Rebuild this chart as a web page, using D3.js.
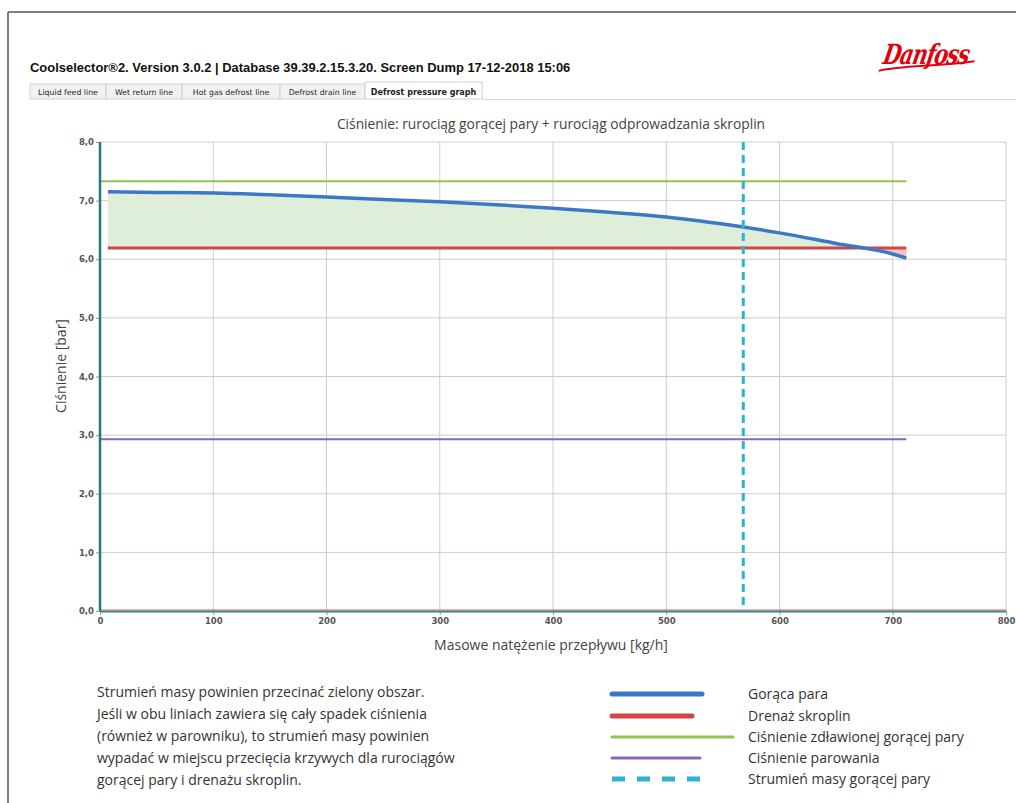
<!DOCTYPE html>
<html><head><meta charset="utf-8">
<script src="https://cdn.jsdelivr.net/npm/d3@7"></script>
<style>
html,body{margin:0;padding:0;background:#fff;}
svg{display:block;}
</style></head>
<body>
<svg id="c" width="1016" height="803"></svg>
<script>
// ---- data ----
const headerTitle = "Coolselector®2. Version 3.0.2 | Database 39.39.2.15.3.20. Screen Dump 17-12-2018 15:06";
const tabs = ["Liquid feed line","Wet return line","Hot gas defrost line","Defrost drain line","Defrost pressure graph"];
const chartTitle = "Ciśnienie: rurociąg gorącej pary + rurociąg odprowadzania skroplin";
const xLabel = "Masowe natężenie przepływu [kg/h]";
const yLabel = "Ciśnienie [bar]";
const xTicks = [0,100,200,300,400,500,600,700,800];
const yTicks = [0,1,2,3,4,5,6,7,8];
// hot gas (Gorąca para) curve
const hotGasX = [7,50,100,150,200,250,300,350,400,450,500,550,600,650,700,712];
const hotGasY = [7.15,7.14,7.13,7.10,7.06,7.02,6.98,6.93,6.87,6.80,6.72,6.60,6.45,6.27,6.09,6.02];
// drain (Drenaż skroplin)
const drainX = [7,712];
const drainY = [6.19,6.19];
// choked hot gas pressure
const chokedX = [0,712];
const chokedY = [7.33,7.33];
// evaporating pressure
const evapX = [0,712];
const evapY = [2.93,2.93];
// hot gas mass flow (vertical)
const massFlow = 568;
const legendLabels = ["Gorąca para","Drenaż skroplin","Ciśnienie zdławionej gorącej pary","Ciśnienie parowania","Strumień masy gorącej pary"];
const noteLines = [
 "Strumień masy powinien przecinać zielony obszar.",
 "Jeśli w obu liniach zawiera się cały spadek ciśnienia",
 "(również w parowniku), to strumień masy powinien",
 "wypadać w miejscu przecięcia krzywych dla rurociągów",
 "gorącej pary i drenażu skroplin."
];

const svg = d3.select("#c");
const font = "'Open Sans', sans-serif";

// frame
svg.append("line").attr("x1",8).attr("x2",1016).attr("y1",12).attr("y2",12).attr("stroke","#555").attr("stroke-width",1.5);
svg.append("line").attr("x1",8).attr("x2",8).attr("y1",12).attr("y2",803).attr("stroke","#555").attr("stroke-width",1.5);

function fitWidth(sel, size, target){
  const w = sel.node().getComputedTextLength();
  sel.attr("font-size", size*target/w);
}

// header title
const ht = svg.append("text").attr("x",30).attr("y",72).text(headerTitle)
  .attr("font-family","'Liberation Sans', Arial, sans-serif").attr("font-weight","bold").attr("font-size",12.5).attr("fill","#111");
fitWidth(ht,12.5,541);

// Danfoss logo
const logo = svg.append("g").attr("transform","translate(882,64) scale(1,1.35) skewX(-14)");
const lt = logo.append("text").text("Danfoss").attr("x",0).attr("y",0)
  .attr("font-family","'DejaVu Serif', serif").attr("font-style","italic").attr("font-weight","bold")
  .attr("font-size",24).attr("fill","#e2000f").attr("letter-spacing",-1);
fitWidth(lt,24,86);
logo.append("path").attr("d","M-2,5 C20,1 55,2 92,-2").attr("stroke","#e2000f").attr("stroke-width",1.5).attr("fill","none");

// tabs
const tabW = [76,76,98,85,117];
let tx = 30;
tabs.forEach((t,i)=>{
  const sel = i===tabs.length-1;
  svg.append("rect").attr("x",tx).attr("y",sel?82:84).attr("width",tabW[i]).attr("height",sel?17:15)
    .attr("fill",sel?"#fff":"#f2f2f2").attr("stroke","#cfcfcf").attr("stroke-width",1);
  svg.append("text").attr("x",tx+tabW[i]/2).attr("y",95).attr("text-anchor","middle").text(t)
    .attr("font-family","'DejaVu Sans', Tahoma, sans-serif").attr("font-size",sel?8:7.8)
    .attr("font-weight",sel?"bold":"normal").attr("fill","#222");
  tx += tabW[i];
});
svg.append("line").attr("x1",482).attr("x2",1016).attr("y1",99.5).attr("y2",99.5).attr("stroke","#d8d8d8");

// scales
const x = d3.scaleLinear().domain([0,800]).range([100,1006]);
const y = d3.scaleLinear().domain([0,8]).range([611,142]);

// chart title
svg.append("text").attr("x",551).attr("y",129).attr("text-anchor","middle").text(chartTitle)
  .attr("font-family",font).attr("font-size",13.8).attr("fill","#444");

// gridlines
svg.append("g").selectAll("line").data(xTicks.slice(1)).join("line")
  .attr("x1",d=>x(d)).attr("x2",d=>x(d)).attr("y1",y(8)).attr("y2",y(0)).attr("stroke","#cccccc").attr("stroke-width",1);
svg.append("g").selectAll("line").data(yTicks.slice(1)).join("line")
  .attr("x1",x(0)).attr("x2",x(800)).attr("y1",d=>y(d)).attr("y2",d=>y(d)).attr("stroke","#cccccc").attr("stroke-width",1);

// axes
const fmt = d=>d3.format(".1f")(d).replace(".",",");
const yAx = svg.append("g").attr("transform",`translate(${x(0)},0)`)
  .call(d3.axisLeft(y).tickValues(yTicks).tickFormat(fmt).tickSize(4).tickPadding(2));
const xAx = svg.append("g").attr("transform",`translate(0,${y(0)})`)
  .call(d3.axisBottom(x).tickValues(xTicks).tickFormat(d3.format("d")).tickSize(4).tickPadding(3));
[yAx,xAx].forEach(a=>{
  a.select(".domain").remove();
  a.selectAll(".tick line").attr("stroke","#999");
  a.selectAll(".tick text").attr("font-family","'DejaVu Sans', sans-serif").attr("font-weight","bold")
    .attr("font-size",8.5).attr("fill","#555");
});

// fill areas between hot gas and drain
const hot = hotGasX.map((v,i)=>({x:v,y:hotGasY[i]}));
const drainLevel = drainY[0];
const defs = svg.append("defs");
defs.append("clipPath").attr("id","above").append("rect").attr("x",0).attr("y",0).attr("width",1016).attr("height",y(drainLevel));
defs.append("clipPath").attr("id","below").append("rect").attr("x",0).attr("y",y(drainLevel)).attr("width",1016).attr("height",803);
const area = d3.area().curve(d3.curveMonotoneX).x(d=>x(d.x)).y0(y(drainLevel)).y1(d=>y(d.y));
svg.append("path").datum(hot).attr("d",area).attr("fill","#deeed8").attr("clip-path","url(#above)");
svg.append("path").datum(hot).attr("d",area).attr("fill","#f6c4c4").attr("clip-path","url(#below)");

const line = d3.line().x(d=>x(d.x)).y(d=>y(d.y));
const smooth = d3.line().curve(d3.curveMonotoneX).x(d=>x(d.x)).y(d=>y(d.y));
const pts = (xs,ys)=>xs.map((v,i)=>({x:v,y:ys[i]}));

// horizontal reference lines
svg.append("path").datum(pts(chokedX,chokedY)).attr("d",line).attr("stroke","#90c44c").attr("stroke-width",2).attr("fill","none");
svg.append("path").datum(pts(evapX,evapY)).attr("d",line).attr("stroke","#8b68b3").attr("stroke-width",2).attr("fill","none");
svg.append("path").datum(pts(drainX,drainY)).attr("d",line).attr("stroke","#d24646").attr("stroke-width",3).attr("fill","none");

// hot gas curve
svg.append("path").datum(hot).attr("d",smooth).attr("stroke","#3d78c6").attr("stroke-width",3.5).attr("fill","none").attr("stroke-linejoin","round");

// axis lines (teal) and zero red line
svg.append("line").attr("x1",x(0)).attr("x2",x(800)).attr("y1",y(0)+0.5).attr("y2",y(0)+0.5).attr("stroke","#2a8a8a").attr("stroke-width",2);
svg.append("line").attr("x1",x(0)).attr("x2",x(800)).attr("y1",y(0)-1).attr("y2",y(0)-1).attr("stroke","#e06060").attr("stroke-width",1.2);
svg.append("line").attr("x1",x(0)).attr("x2",x(0)).attr("y1",y(8)).attr("y2",y(0)).attr("stroke","#1f7b7c").attr("stroke-width",2.5);

// mass flow dashed vertical
svg.append("line").attr("x1",x(massFlow)).attr("x2",x(massFlow)).attr("y1",y(8)).attr("y2",y(0))
  .attr("stroke","#2eb2d2").attr("stroke-width",3).attr("stroke-dasharray","8,5");

// axis labels
svg.append("text").attr("x",551).attr("y",650).attr("text-anchor","middle").text(xLabel)
  .attr("font-family",font).attr("font-size",14).attr("fill","#444");
svg.append("text").attr("transform","translate(66,366) rotate(-90)").attr("text-anchor","middle").text(yLabel)
  .attr("font-family",font).attr("font-size",14).attr("fill","#444");

// note text
svg.append("g").selectAll("text").data(noteLines).join("text")
  .attr("x",97).attr("y",(d,i)=>697+i*22).text(d=>d)
  .attr("font-family",font).attr("font-size",14).attr("fill","#333");

// legend
const legY = [694,716,737,758,779];
const legX2 = [702,692,733,700,702];
const legStyles = [
  {c:"#3d78c6",w:5,dash:null},
  {c:"#d24646",w:5,dash:null},
  {c:"#90c44c",w:3,dash:null},
  {c:"#8b68b3",w:3,dash:null},
  {c:"#2eb2d2",w:5,dash:"13,12"}
];
legendLabels.forEach((t,i)=>{
  const s = legStyles[i];
  const l = svg.append("line").attr("x1",612).attr("x2",legX2[i]).attr("y1",legY[i]).attr("y2",legY[i])
    .attr("stroke",s.c).attr("stroke-width",s.w).attr("stroke-linecap","round");
  if(s.dash) l.attr("stroke-dasharray",s.dash).attr("stroke-linecap","butt");
  svg.append("text").attr("x",748).attr("y",legY[i]+5).text(t)
    .attr("font-family",font).attr("font-size",14).attr("fill","#333");
});
</script>
</body></html>
